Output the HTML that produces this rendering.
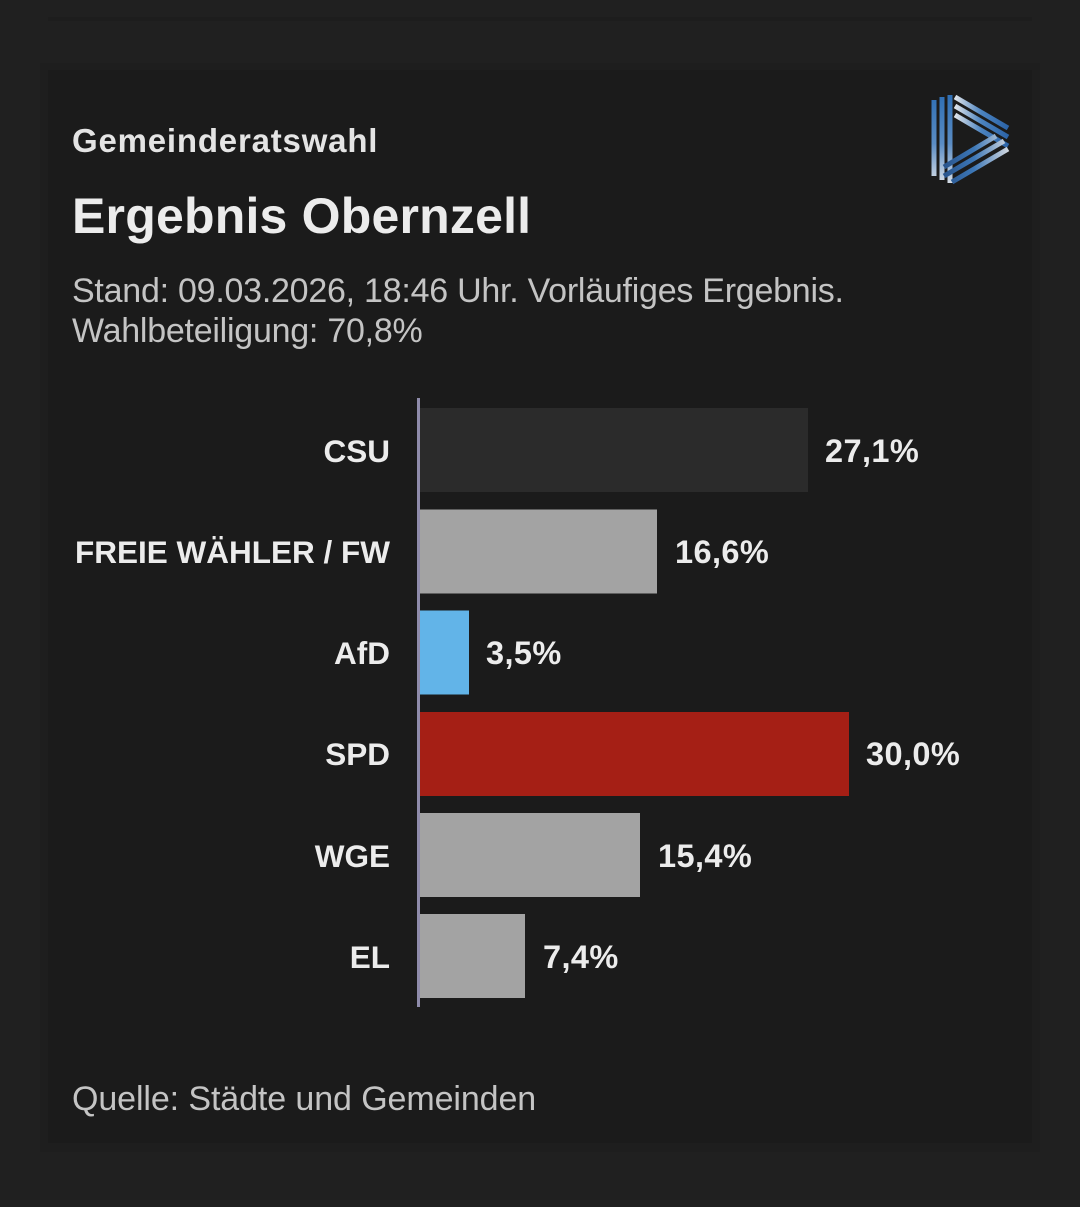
<!DOCTYPE html>
<html><head><meta charset="utf-8"><style>
html,body{margin:0;padding:0;background:#202020;}
svg{display:block;}
</style></head><body>
<svg width="1080" height="1207" viewBox="0 0 1080 1207" xmlns="http://www.w3.org/2000/svg">
<defs>
<linearGradient id="lg1" gradientUnits="userSpaceOnUse" x1="0" y1="95" x2="0" y2="183">
<stop offset="0" stop-color="#2f6fb5"/><stop offset="0.55" stop-color="#5a8cc4"/><stop offset="1" stop-color="#d6dde6"/>
</linearGradient>
<linearGradient id="lg2" gradientUnits="userSpaceOnUse" x1="955" y1="0" x2="1008" y2="0">
<stop offset="0" stop-color="#dfe4ea"/><stop offset="0.5" stop-color="#4b83c0"/><stop offset="1" stop-color="#2c64a8"/>
</linearGradient>
<linearGradient id="lg3" gradientUnits="userSpaceOnUse" x1="1008" y1="0" x2="940" y2="0">
<stop offset="0" stop-color="#cfd6df"/><stop offset="0.5" stop-color="#3d78b8"/><stop offset="1" stop-color="#264f86"/>
</linearGradient>
</defs>
<rect x="0" y="0" width="1080" height="1207" fill="#202020"/>
<rect x="48" y="17" width="984" height="4" fill="#1d1d1d"/>
<rect x="40" y="63" width="1000" height="1089" fill="#1e1e1e"/>
<rect x="48" y="70" width="984" height="1073" fill="#1b1b1b"/>

<g font-family="'Liberation Sans', sans-serif">
<text x="72" y="152" font-size="33" font-weight="bold" fill="#e4e4e4" letter-spacing="0.8">Gemeinderatswahl</text>
<text x="72" y="233" font-size="50" font-weight="bold" fill="#ececec" letter-spacing="0.2">Ergebnis Obernzell</text>
<text x="72" y="302" font-size="34" fill="#c4c4c4" letter-spacing="-0.25">Stand: 09.03.2026, 18:46 Uhr. Vorläufiges Ergebnis.</text>
<text x="72" y="342" font-size="34" fill="#c4c4c4" letter-spacing="-0.25">Wahlbeteiligung: 70,8%</text>
<text x="72" y="1110" font-size="34" fill="#c4c4c4" letter-spacing="-0.1">Quelle: Städte und Gemeinden</text>
</g>

<!-- logo -->
<g stroke-width="5" fill="none" stroke-linecap="butt">
<line x1="934" y1="100" x2="934" y2="176" stroke="url(#lg1)"/>
<line x1="942" y1="97" x2="942" y2="180" stroke="url(#lg1)"/>
<line x1="950" y1="95" x2="950" y2="183" stroke="url(#lg1)"/>
<line x1="955" y1="97" x2="1008" y2="128" stroke="url(#lg2)"/>
<line x1="955" y1="106" x2="1008" y2="137" stroke="url(#lg2)"/>
<line x1="955" y1="115" x2="1008" y2="146" stroke="url(#lg2)"/>
<line x1="996" y1="136" x2="944" y2="167" stroke="url(#lg3)"/>
<line x1="1004" y1="141" x2="944" y2="176" stroke="url(#lg3)"/>
<line x1="1008" y1="149" x2="952" y2="182" stroke="url(#lg3)"/>
</g>

<!-- bars -->
<rect x="420" y="408" width="388" height="84" fill="#2b2b2b"/>
<rect x="420" y="509.5" width="237" height="84" fill="#a3a3a3"/>
<rect x="420" y="610.5" width="49" height="84" fill="#62b4e8"/>
<rect x="420" y="712" width="429" height="84" fill="#a51f15"/>
<rect x="420" y="813" width="220" height="84" fill="#a3a3a3"/>
<rect x="420" y="914" width="105" height="84" fill="#a3a3a3"/>
<rect x="417" y="398" width="3" height="609" fill="#8f8cab"/>

<g font-family="'Liberation Sans', sans-serif" font-size="31.5" font-weight="bold" fill="#ececec">
<text x="390" y="462" text-anchor="end">CSU</text>
<text x="390" y="563" text-anchor="end">FREIE WÄHLER / FW</text>
<text x="390" y="664" text-anchor="end">AfD</text>
<text x="390" y="765" text-anchor="end">SPD</text>
<text x="390" y="867" text-anchor="end">WGE</text>
<text x="390" y="968" text-anchor="end">EL</text>
</g>
<g font-family="'Liberation Sans', sans-serif" font-size="32.5" font-weight="bold" fill="#ececec" letter-spacing="0.4">
<text x="825" y="462">27,1%</text>
<text x="675" y="563">16,6%</text>
<text x="486" y="664">3,5%</text>
<text x="866" y="765">30,0%</text>
<text x="658" y="867">15,4%</text>
<text x="543" y="968">7,4%</text>
</g>
</svg>
</body></html>
